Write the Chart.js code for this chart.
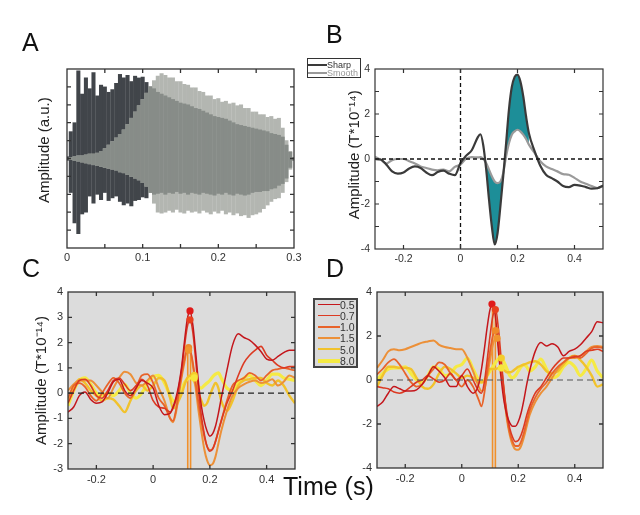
<!DOCTYPE html>
<html><head><meta charset="utf-8">
<script src="https://cdn.jsdelivr.net/npm/chart.js@4.4.0/dist/chart.umd.min.js"></script>
<style>
html,body{margin:0;padding:0;background:#fff;}
#wrap{position:relative;width:640px;height:515px;overflow:hidden;font-family:'Liberation Sans',Arial,Helvetica,sans-serif;}
#wrap canvas{position:absolute;left:0;top:0;}
.let{position:absolute;font-size:25px;line-height:25px;color:#111;}
.leg{position:absolute;box-sizing:border-box;}
.sw{position:absolute;height:0;}
.tx{position:absolute;white-space:nowrap;}
</style></head><body>
<div id="wrap">
<canvas id="cA" width="640" height="515" style="width:640px;height:515px"></canvas>
<canvas id="cB" width="640" height="515" style="width:640px;height:515px"></canvas>
<canvas id="cC" width="640" height="515" style="width:640px;height:515px"></canvas>
<canvas id="cD" width="640" height="515" style="width:640px;height:515px"></canvas>
<div class="let" style="left:22px;top:30px">A</div>
<div class="let" style="left:326px;top:22px">B</div>
<div class="let" style="left:22px;top:256px">C</div>
<div class="let" style="left:326px;top:256px">D</div>
<div class="let" style="left:283px;top:474px">Time (s)</div>
<div id="legB" class="leg" style="left:307px;top:58px;width:54px;height:20px;border:1px solid #333;background:#fff"></div>
<div id="legCD" class="leg" style="left:313px;top:298px;width:45px;height:70px;border:2px solid #444;background:#dadada"></div>
</div>
<script>
// ---------- Panel A (stimulus envelopes, a.u.) ----------
const A_T = [0,0.005,0.01,0.015,0.02,0.025,0.03,0.035,0.04,0.045,0.05,0.055,0.06,0.065,0.07,0.075,0.08,0.085,0.09,0.095,0.1,0.105,0.11,0.115,0.12,0.125,0.13,0.135,0.14,0.145,0.15,0.155,0.16,0.165,0.17,0.175,0.18,0.185,0.19,0.195,0.2,0.205,0.21,0.215,0.22,0.225,0.23,0.235,0.24,0.245,0.25,0.255,0.26,0.265,0.27,0.275,0.28,0.285,0.29,0.295,0.3];
const SHARP_HI = [0.02,0.3,0.4,0.98,0.72,0.9,0.78,0.96,0.7,0.82,0.8,0.74,0.77,0.84,0.94,0.9,0.93,0.86,0.92,0.9,0.91,0.85,0.8];
const SHARP_LO = [-0.02,-0.38,-0.72,-0.84,-0.62,-0.6,-0.42,-0.5,-0.4,-0.46,-0.38,-0.47,-0.44,-0.42,-0.48,-0.52,-0.5,-0.53,-0.47,-0.46,-0.43,-0.44,-0.38];
const SMOOTH_HI = [0,0.01,0.02,0.03,0.03,0.04,0.05,0.05,0.06,0.08,0.11,0.15,0.19,0.23,0.27,0.32,0.38,0.45,0.52,0.59,0.66,0.73,0.8,0.87,0.92,0.95,0.93,0.9,0.9,0.86,0.86,0.83,0.82,0.79,0.79,0.75,0.74,0.7,0.7,0.66,0.67,0.63,0.64,0.61,0.62,0.59,0.6,0.56,0.56,0.52,0.52,0.49,0.49,0.46,0.47,0.44,0.45,0.34,0.2,0.08,0.01];
const SMOOTH_LO = [0,-0.01,-0.02,-0.03,-0.04,-0.05,-0.06,-0.07,-0.08,-0.09,-0.1,-0.11,-0.12,-0.13,-0.15,-0.16,-0.18,-0.2,-0.22,-0.24,-0.27,-0.31,-0.38,-0.5,-0.6,-0.61,-0.6,-0.58,-0.6,-0.57,-0.6,-0.61,-0.58,-0.6,-0.59,-0.61,-0.58,-0.6,-0.62,-0.59,-0.61,-0.58,-0.62,-0.6,-0.63,-0.61,-0.64,-0.63,-0.66,-0.63,-0.62,-0.6,-0.56,-0.52,-0.48,-0.45,-0.44,-0.38,-0.26,-0.12,-0.02];
const INNER_HI = [0,0.01,0.02,0.03,0.03,0.04,0.05,0.05,0.06,0.08,0.11,0.15,0.19,0.23,0.27,0.32,0.38,0.45,0.52,0.59,0.66,0.73,0.8,0.78,0.74,0.72,0.7,0.68,0.66,0.64,0.62,0.61,0.6,0.58,0.56,0.55,0.53,0.51,0.49,0.47,0.46,0.45,0.44,0.42,0.4,0.38,0.37,0.36,0.35,0.34,0.33,0.32,0.31,0.3,0.28,0.27,0.26,0.24,0.15,0.07,0.01];
const INNER_LO = [0,-0.01,-0.02,-0.03,-0.04,-0.05,-0.06,-0.07,-0.08,-0.09,-0.1,-0.11,-0.12,-0.13,-0.15,-0.16,-0.18,-0.2,-0.22,-0.24,-0.27,-0.31,-0.38,-0.4,-0.39,-0.38,-0.4,-0.38,-0.39,-0.37,-0.39,-0.38,-0.4,-0.38,-0.39,-0.4,-0.38,-0.39,-0.4,-0.41,-0.39,-0.4,-0.38,-0.4,-0.41,-0.39,-0.4,-0.41,-0.4,-0.38,-0.37,-0.37,-0.36,-0.36,-0.34,-0.33,-0.3,-0.28,-0.22,-0.1,-0.02];
const A_XLABELS = [0,0.1,0.2,0.3];
const A_XMARKS = [0.05,0.1,0.15,0.2,0.25];
const A_YMARKS = [-0.8,-0.6,-0.4,-0.2,0,0.2,0.4,0.6,0.8];

// ---------- Panels B–D (time axis, s) ----------
const T = [-0.3,-0.28,-0.26,-0.24,-0.22,-0.2,-0.18,-0.16,-0.14,-0.12,-0.1,-0.08,-0.06,-0.04,-0.02,0,0.02,0.04,0.06,0.07,0.08,0.09,0.1,0.11,0.12,0.13,0.14,0.15,0.16,0.17,0.18,0.19,0.2,0.21,0.22,0.23,0.24,0.26,0.28,0.3,0.32,0.34,0.36,0.38,0.4,0.42,0.44,0.46,0.48,0.5];
const B_SHARP = [0,-0.02,-0.25,-0.55,-0.65,-0.6,-0.42,-0.33,-0.4,-0.6,-0.72,-0.58,-0.52,-0.65,-0.72,-0.18,0.15,0.4,0.95,1.1,0.6,-0.45,-1.8,-3.0,-3.8,-3.3,-2.1,-0.75,0.7,2.2,3.2,3.65,3.75,3.45,2.8,1.9,1.15,0.35,-0.3,-0.7,-0.85,-1.0,-1.2,-1.25,-1.15,-1.18,-1.25,-1.32,-1.3,-1.18];
const B_SMOOTH = [0.1,-0.03,-0.2,-0.05,0,0,-0.1,-0.2,-0.33,-0.4,-0.47,-0.5,-0.47,-0.55,-0.35,-0.25,0.02,0.08,0.07,0.08,0.0,-0.18,-0.47,-0.77,-1.0,-1.07,-1.0,-0.62,0.12,0.7,1.08,1.23,1.3,1.23,1.08,0.89,0.64,0.27,-0.1,-0.33,-0.44,-0.55,-0.67,-0.7,-0.84,-1.0,-1.1,-1.2,-1.29,-1.22];
const B_SIG_FROM = 0.09, B_SIG_TO = 0.24;
const B_LABELS = ['Sharp','Smooth'];

const LEVELS = ['0.5','0.7','1.0','1.5','5.0','8.0'];
const C_05 = [-0.75,-0.55,-0.1,0.05,-0.25,-0.4,-0.35,0.0,0.45,0.55,0.1,-0.1,0.2,0.5,0.4,0.2,-0.5,-0.85,-0.8,-0.55,-0.2,0.3,1.0,2.0,2.9,3.25,2.7,1.6,0.4,-0.5,-1.1,-1.5,-1.7,-1.6,-1.3,-0.8,-0.2,0.9,1.9,2.35,2.2,2.1,1.9,1.65,1.35,1.3,1.45,1.6,1.7,1.7];
const C_07 = [-0.4,0.1,0.5,0.55,0.3,-0.1,-0.2,0.1,0.5,0.6,0.35,0.1,0.3,0.55,0.3,-0.3,-0.55,-0.6,-0.75,-0.6,-0.3,0.2,0.9,1.8,2.6,2.9,2.4,1.3,0.1,-0.9,-1.6,-2.1,-2.3,-2.2,-1.9,-1.5,-1.1,-0.4,0.1,0.7,1.2,1.5,1.7,1.85,1.5,1.3,1.1,1.0,1.05,1.05];
const C_10 = [-0.2,0.3,0.4,0.25,-0.1,-0.3,0.0,0.35,0.6,0.4,0.0,-0.2,0.2,0.7,0.75,0.4,-0.2,-0.5,-1.0,-1.1,-0.7,0.0,0.7,1.3,1.75,1.7,1.2,0.4,-0.4,-1.1,-1.7,-2.1,-2.25,-2.2,-1.9,-1.5,-1.1,-0.3,0.3,0.5,0.6,0.8,0.7,0.5,0.7,0.9,0.95,1.0,0.95,0.9];
const C_15 = [0.1,0.35,0.5,0.5,0.5,0.3,0.05,-0.2,0.2,0.6,0.85,0.75,0.4,0.3,0.5,0.7,0.2,-0.3,-1.0,-1.15,-0.8,-0.1,0.6,1.2,1.7,1.65,1.1,0.2,-0.7,-1.5,-2.2,-2.65,-2.85,-2.8,-2.5,-2.0,-1.5,-0.7,-0.1,0.2,0.35,0.45,0.5,0.4,0.45,0.55,0.3,0.45,0.7,0.6];
const C_50 = [-0.3,0.2,0.55,0.4,0.1,-0.1,-0.3,-0.2,-0.25,-0.5,-0.75,-0.3,0.1,0.3,0.1,0.3,0.6,0.5,-0.2,-0.6,-0.55,-0.3,-0.05,0.3,0.6,0.7,0.6,0.3,0.0,-0.3,-0.5,-0.4,-0.1,0.2,0.4,0.2,-0.3,-0.7,-0.3,0.3,0.5,0.55,0.6,0.6,0.4,0.3,0.5,0.3,-0.1,-0.4];
const C_80 = [-0.5,0.1,0.5,0.6,0.35,0.0,-0.1,0.0,-0.1,0.1,0.35,0.0,-0.2,0.0,0.4,0.65,0.7,0.4,-0.1,-0.3,-0.35,-0.2,0.1,0.4,0.55,0.6,0.65,0.45,0.25,0.2,0.3,0.4,0.5,0.65,0.75,0.8,0.6,0.2,0.1,0.4,0.6,0.7,0.5,0.3,0.5,0.75,0.75,0.6,0.55,0.5];
const C_PEAK_T = [0.13,0.13,0.125,0.125,0.145,0.145];
const C_PEAK_V = [3.25,2.9,1.8,1.7,0.7,0.6];
const C_VLINE_T = [0.122,0.132];
const C_VLINE_TOP = [1.8,1.7];

const D_05 = [-1.2,-1.0,-0.6,-0.3,-0.4,-0.5,-0.5,-0.45,-0.2,0.2,0.6,0.4,0.1,-0.3,-0.3,0.2,-0.3,-0.6,-0.2,0.5,1.4,2.4,3.2,3.45,2.8,1.3,0.0,-1.0,-1.6,-1.95,-2.1,-2.1,-1.9,-1.5,-0.9,-0.2,0.4,1.3,1.7,1.55,1.65,1.5,1.1,1.3,1.4,1.6,1.9,2.2,2.65,2.6];
const D_07 = [-0.3,-0.35,-0.4,-0.55,-0.6,-0.5,-0.3,-0.1,0.0,0.2,0.05,-0.1,0.0,0.3,0.0,0.2,0.5,0.0,-0.5,-0.6,-0.1,0.9,2.0,2.9,3.2,2.3,0.9,-0.5,-1.5,-2.2,-2.6,-2.8,-2.75,-2.5,-2.1,-1.6,-1.2,-0.6,-0.3,0.1,0.5,0.8,1.0,1.0,1.05,1.1,1.3,1.35,1.4,1.3];
const D_10 = [0.25,0.5,0.8,0.95,0.7,0.3,-0.1,-0.3,-0.2,0.2,0.5,0.8,0.7,0.3,0.0,-0.3,0.0,-0.3,-0.9,-1.2,-0.6,0.4,1.3,2.0,2.25,1.7,0.6,-0.6,-1.7,-2.4,-2.8,-3.0,-3.0,-2.8,-2.4,-1.9,-1.4,-0.8,-0.4,-0.1,0.3,0.6,0.8,1.0,1.1,1.0,1.2,1.45,1.5,1.45];
const D_15 = [0.55,0.9,1.3,1.4,1.35,1.4,1.5,1.6,1.7,1.75,1.8,1.6,1.5,1.45,1.4,1.4,1.0,0.4,-0.3,-0.5,-0.4,0.2,0.9,1.6,1.9,1.6,0.6,-0.7,-1.8,-2.5,-2.95,-3.15,-3.17,-3.0,-2.6,-2.1,-1.6,-1.0,-0.6,-0.3,0.1,0.5,0.8,1.0,1.0,1.1,1.3,1.5,1.55,1.5];
const D_50 = [-0.3,0.2,0.6,0.6,0.55,0.55,0.5,0.1,-0.3,-0.4,-0.2,0.3,0.6,0.5,0.3,0.1,0.2,0.1,-0.1,-0.1,-0.05,0.2,0.5,0.5,0.5,0.55,0.5,0.45,0.35,0.35,0.4,0.5,0.6,0.65,0.7,0.75,0.8,0.85,0.7,0.4,0.3,0.4,0.7,1.0,1.1,0.9,0.6,0.2,-0.3,-0.2];
const D_80 = [0.0,0.3,0.5,0.55,0.55,0.6,0.3,0.0,-0.1,0.2,0.6,0.5,0.2,0.3,0.6,0.7,1.0,0.5,0.0,-0.1,0.0,0.2,0.4,0.6,0.8,0.95,1.0,0.8,0.5,0.2,0.1,0.2,0.4,0.6,0.7,0.6,0.4,0.6,0.95,0.5,0.1,0.2,0.6,0.8,0.6,0.2,0.5,0.9,0.4,0.1];
const D_PEAK_T = [0.107,0.119,0.12,0.125,0.14,0.14];
const D_PEAK_V = [3.45,3.2,2.25,1.9,1.0,0.55];
const D_VLINE_T = [0.109,0.119];
const D_VLINE_TOP = [3.4,3.2];

const T_XLABELS = [-0.2,0,0.2,0.4];
const B_YLABELS = [-4,-2,0,2,4];
const B_YMARKS = [-3,-2,-1,0,1,2,3];
const C_YLABELS = [-3,-2,-1,0,1,2,3,4];
const C_YMARKS = [-2,-1,0,1,2,3];
const D_YLABELS = [-4,-2,0,2,4];
const D_YMARKS = [-2,0,2];

// ---------- styling ----------
Chart.defaults.font.family = "'Liberation Sans', Arial, Helvetica, sans-serif";
Chart.defaults.color = '#333';
Chart.defaults.animation = false;

const LEVEL_COLORS = ['#c4161c','#dc3a22','#e8632a','#ec9038','#f1c22c','#f5ea44'];
const LEVEL_WIDTHS = [1.5,1.6,1.8,2.0,2.4,3.2];
const PEAK_COLORS = ['#e01a1a','#e8401e','#ef8a2a','#f0952e','#f3cc2c','#f6e63c'];
const VLINE_COLOR = '#f0902c';

const fmt = v => String(Math.round(v * 1000) / 1000);

function axis(o) {
  return {
    type: 'linear', min: o.min, max: o.max, offset: false,
    grid: { display: false, drawTicks: false }, border: { display: false },
    ticks: { display: !!o.labels, autoSkip: false, maxRotation: 0, minRotation: 0, padding: o.pad,
             font: { size: o.fs || 10 }, color: '#333', callback: v => fmt(v) },
    afterBuildTicks: s => { s.ticks = (o.labels || []).map(v => ({ value: v })); },
    afterFit: s => { if (o.isX) s.height = o.size; else s.width = o.size; },
    title: o.title ? { display: true, text: o.title, color: '#222', font: { size: 15 }, padding: { top: 4, bottom: 4 } } : { display: false }
  };
}

function area(L, T0, R, B, yW, xH) {
  return { left: L - yW, top: T0, right: 640 - R, bottom: 515 - B - xH };
}

const framePlugin = {
  id: 'frame',
  beforeDatasetsDraw(chart, args, o) {
    const a = chart.chartArea, ctx = chart.ctx;
    if (o.bg) { ctx.save(); ctx.fillStyle = o.bg; ctx.fillRect(a.left, a.top, a.right - a.left, a.bottom - a.top); ctx.restore(); }
  },
  afterDatasetsDraw(chart, args, o) {
    const a = chart.chartArea, ctx = chart.ctx, x = chart.scales.x, y = chart.scales.y;
    ctx.save();
    ctx.beginPath(); ctx.rect(a.left, a.top, a.right - a.left, a.bottom - a.top); ctx.clip();
    ctx.setLineDash(o.dash || [5, 4]); ctx.strokeStyle = o.dashColor || '#111'; ctx.lineWidth = o.dashWidth || 1.2;
    if (o.zeroH) { const py = y.getPixelForValue(0); ctx.beginPath(); ctx.moveTo(a.left, py); ctx.lineTo(a.right, py); ctx.stroke(); }
    if (o.zeroV) { const px = x.getPixelForValue(0); ctx.beginPath(); ctx.moveTo(px, a.top); ctx.lineTo(px, a.bottom); ctx.stroke(); }
    ctx.restore();
    ctx.save();
    ctx.strokeStyle = o.boxColor || '#333'; ctx.lineWidth = o.boxWidth || 1.2;
    ctx.strokeRect(a.left, a.top, a.right - a.left, a.bottom - a.top);
    const L = 4;
    ctx.beginPath();
    (o.xMarks || []).forEach(v => { const px = x.getPixelForValue(v);
      ctx.moveTo(px, a.bottom); ctx.lineTo(px, a.bottom - L); ctx.moveTo(px, a.top); ctx.lineTo(px, a.top + L); });
    (o.yMarks || []).forEach(v => { const py = y.getPixelForValue(v);
      ctx.moveTo(a.left, py); ctx.lineTo(a.left + L, py); ctx.moveTo(a.right, py); ctx.lineTo(a.right - L, py); });
    ctx.stroke();
    ctx.restore();
  }
};

const baseOpts = (pad) => ({
  responsive: false, animation: false, layout: { padding: pad },
  plugins: { legend: { display: false }, tooltip: { enabled: false } },
  events: []
});

// ---------- Panel A ----------
const bars = (lo, hi, color) => ({
  data: hi.map((h, i) => ({ x: A_T[i], y: [lo[i], h] })),
  backgroundColor: color, borderWidth: 0, barThickness: 3.4, grouped: false, borderSkipped: false
});
const optA = baseOpts(area(67, 69, 294, 248, 35, 18));
optA.scales = {
  x: axis({ min: 0, max: 0.3, labels: A_XLABELS, pad: 3, isX: true, size: 18, fs: 11 }),
  y: axis({ min: -1, max: 1, labels: null, isX: false, size: 35, title: '    Amplitude (a.u.)' })
};
optA.plugins.frame = { xMarks: A_XMARKS, yMarks: A_YMARKS, boxColor: '#333', boxWidth: 1.3 };
new Chart(document.getElementById('cA'), {
  type: 'bar',
  data: { datasets: [
    bars(INNER_LO, INNER_HI, '#878c88'),
    bars(SMOOTH_LO, SMOOTH_HI, '#b3b6b1'),
    bars(SHARP_LO, SHARP_HI, '#41454a')
  ] },
  options: optA, plugins: [framePlugin]
});

// ---------- Panel B ----------
const pts = arr => T.map((t, i) => ({ x: t, y: arr[i] }));
const inSig = t => t >= B_SIG_FROM - 1e-9 && t <= B_SIG_TO + 1e-9;
const seg = arr => pts(arr).filter(p => inSig(p.x));
const lineDs = (data, color, w, extra) => Object.assign({ data, borderColor: color, borderWidth: w, pointRadius: 0,
  cubicInterpolationMode: 'monotone', fill: false }, extra || {});
const optB = baseOpts(area(375, 69, 603, 249, 33, 18));
optB.scales = {
  x: axis({ min: -0.3, max: 0.5, labels: T_XLABELS, pad: 4, isX: true, size: 18, fs: 10.5 }),
  y: axis({ min: -4, max: 4, labels: B_YLABELS, pad: 5, isX: false, size: 33, fs: 10.5, title: '  Amplitude (T*10\u207B\u00B9\u2074)' })
};
optB.plugins.frame = { xMarks: T_XLABELS, yMarks: B_YMARKS, zeroH: true, zeroV: true, dash: [4, 3], dashColor: '#111', dashWidth: 1.3 };
new Chart(document.getElementById('cB'), {
  type: 'line',
  data: { datasets: [
    lineDs(pts(B_SHARP), '#3a3a3a', 2.2, { label: B_LABELS[0] }),
    lineDs(pts(B_SMOOTH), '#9a9a9a', 2.2, { label: B_LABELS[1] }),
    lineDs(seg(B_SHARP), 'rgba(0,0,0,0)', 0, { fill: 3, backgroundColor: '#1d8e98' }),
    lineDs(seg(B_SMOOTH), 'rgba(0,0,0,0)', 0)
  ] },
  options: optB, plugins: [framePlugin]
});

// ---------- Panels C & D ----------
function levelChart(id, series, peakT, peakV, vT, vTop, ymin, ymax, pad, yW, ylabels, ymarks, title, dashColor) {
  const ds = [];
  ds.push({ data: peakT.map((t, i) => ({ x: t, y: peakV[i] })), showLine: false, pointRadius: 3.6,
            pointBackgroundColor: PEAK_COLORS, pointBorderColor: PEAK_COLORS, pointBorderWidth: 0 });
  series.forEach((s, k) => ds.push(lineDs(pts(s), LEVEL_COLORS[k], LEVEL_WIDTHS[k], { label: LEVELS[k] })));
  vT.forEach((t, i) => ds.push({ data: [{ x: t, y: ymin }, { x: t, y: vTop[i] }], borderColor: VLINE_COLOR,
            borderWidth: 1.6, pointRadius: 0, tension: 0, fill: false }));
  const o = baseOpts(pad);
  o.scales = {
    x: axis({ min: -0.3, max: 0.5, labels: T_XLABELS, pad: 4, isX: true, size: 18, fs: 11 }),
    y: axis({ min: ymin, max: ymax, labels: ylabels, pad: 5, isX: false, size: yW, fs: 11, title })
  };
  o.plugins.frame = { bg: '#dcdcdc', xMarks: T_XLABELS, yMarks: ymarks, zeroH: true, dash: [6, 4], dashColor, dashWidth: 1.1, boxColor: '#333', boxWidth: 1.3 };
  new Chart(document.getElementById(id), { type: 'line', data: { datasets: ds }, options: o, plugins: [framePlugin] });
}
levelChart('cC', [C_05, C_07, C_10, C_15, C_50, C_80], C_PEAK_T, C_PEAK_V, C_VLINE_T, C_VLINE_TOP,
  -3, 4, area(68, 292, 295, 469, 39, 18), 39, C_YLABELS, C_YMARKS, 'Amplitude (T*10\u207B\u00B9\u2074)', '#222');
levelChart('cD', [D_05, D_07, D_10, D_15, D_50, D_80], D_PEAK_T, D_PEAK_V, D_VLINE_T, D_VLINE_TOP,
  -4, 4, area(377, 292, 603, 468, 22, 18), 22, D_YLABELS, D_YMARKS, null, '#555');

// ---------- legends (HTML text) ----------
(function () {
  const lb = document.getElementById('legB');
  const bCols = ['#3a3a3a', '#9a9a9a'], bTxt = ['#333', '#999'];
  B_LABELS.forEach((lab, i) => {
    const cy = 6 + i * 7.7;
    lb.insertAdjacentHTML('beforeend',
      '<div class="sw" style="left:0px;top:' + (cy - 1) + 'px;width:19px;border-top:2px solid ' + bCols[i] + '"></div>' +
      '<div class="tx" style="left:19px;top:' + (cy - 5) + 'px;font-size:9px;line-height:10px;color:' + bTxt[i] + '">' + lab + '</div>');
  });
  const lc = document.getElementById('legCD');
  const legW = [1.5, 1.6, 2, 2.2, 2.6, 4];
  const rowC = [5, 16, 27, 38, 49.5, 60.5];
  LEVELS.forEach((lab, i) => {
    lc.insertAdjacentHTML('beforeend',
      '<div class="sw" style="left:3px;top:' + (rowC[i] - legW[i] / 2) + 'px;width:22px;border-top:' + legW[i] + 'px solid ' + LEVEL_COLORS[i] + '"></div>' +
      '<div class="tx" style="left:25px;top:' + (rowC[i] - 6) + 'px;font-size:10.5px;line-height:12px;color:#333">' + lab + '</div>');
  });
})();
</script>
</body></html>
